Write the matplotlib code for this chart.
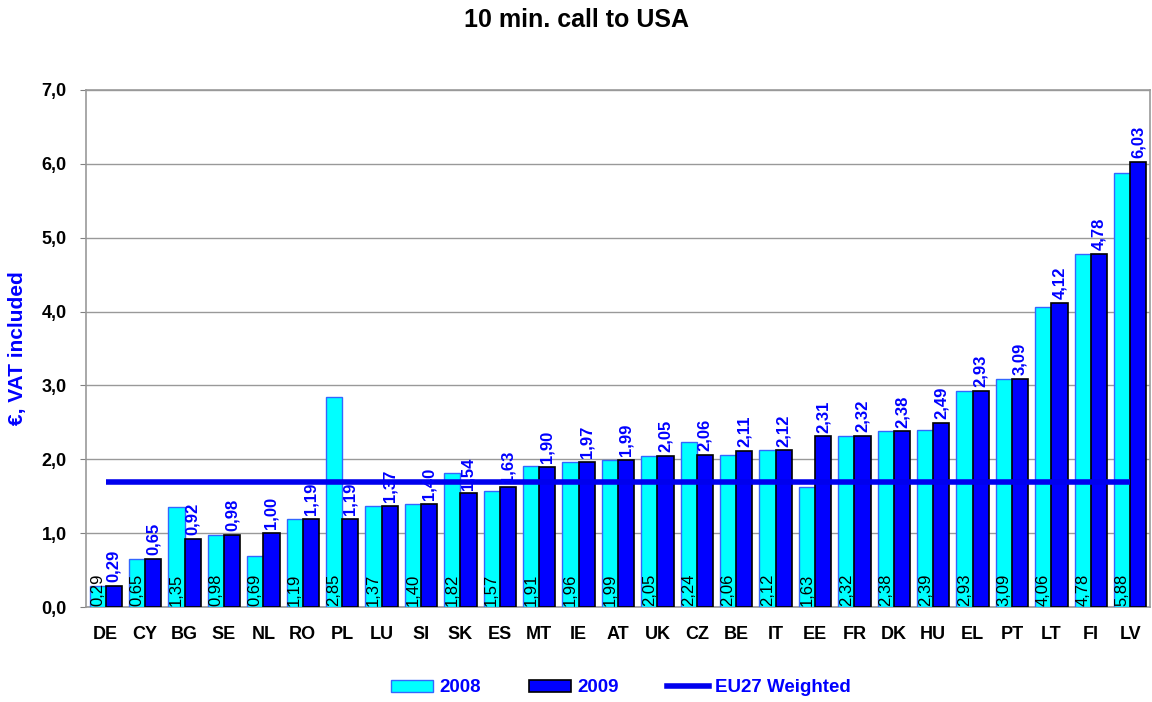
import matplotlib
matplotlib.use("Agg")
import matplotlib.pyplot as plt
import numpy as np
from matplotlib.patches import Patch
from matplotlib.lines import Line2D

plt.rcParams['font.family'] = ['Liberation Sans', 'DejaVu Sans']

countries = ["DE", "CY", "BG", "SE", "NL", "RO", "PL", "LU", "SI", "SK", "ES", "MT", "IE", "AT",
             "UK", "CZ", "BE", "IT", "EE", "FR", "DK", "HU", "EL", "PT", "LT", "FI", "LV"]
v2008 = [0.29, 0.65, 1.35, 0.98, 0.69, 1.19, 2.85, 1.37, 1.40, 1.82, 1.57, 1.91, 1.96, 1.99,
         2.05, 2.24, 2.06, 2.12, 1.63, 2.32, 2.38, 2.39, 2.93, 3.09, 4.06, 4.78, 5.88]
v2009 = [0.29, 0.65, 0.92, 0.98, 1.00, 1.19, 1.19, 1.37, 1.40, 1.54, 1.63, 1.90, 1.97, 1.99,
         2.05, 2.06, 2.11, 2.12, 2.31, 2.32, 2.38, 2.49, 2.93, 3.09, 4.12, 4.78, 6.03]
eu27_weighted = 1.69
yticks = [0, 1, 2, 3, 4, 5, 6, 7]

def fmt(v, d=2):
    return f"{v:.{d}f}".replace(".", ",")

fig = plt.figure(figsize=(11.52, 7.02), dpi=100)
ax = fig.add_axes([0.0747, 0.1353, 0.9235, 0.7365])

x = np.arange(len(countries))
w = 0.41
ax.bar(x - w / 2, v2008, w, color="#00FFFF", edgecolor="#3366FF", linewidth=1.0, zorder=3)
ax.bar(x + w / 2, v2009, w, color="#0000FF", edgecolor="#000000", linewidth=1.2, zorder=3)
ax.plot([x[0], x[-1]], [eu27_weighted, eu27_weighted], color="#0000EE", linewidth=4, zorder=4,
        solid_capstyle="butt")

for xi, v in zip(x, v2008):
    ax.text(xi - w / 2, 0.02, fmt(v), rotation=90, ha="center", va="bottom", fontsize=12,
            color="black", zorder=5)
for xi, v in zip(x, v2009):
    ax.text(xi + w / 2, v + 0.05, fmt(v), rotation=90, ha="center", va="bottom", fontsize=12,
            color="#0000FF", fontweight="bold", zorder=5)

ax.set_xlim(-0.5, len(countries) - 0.5)
ax.set_ylim(0, 7)
ax.set_yticks(yticks)
ax.set_yticklabels([fmt(t, 1) for t in yticks], fontsize=13, fontweight="bold")
ax.set_xticks(x)
ax.set_xticklabels(countries, fontsize=13, fontweight="bold")
ax.tick_params(axis="x", length=0, pad=14)
ax.tick_params(axis="y", length=4, color="#808080", pad=10)
ax.grid(axis="y", color="#999999", linewidth=1.0, zorder=0)
for s in ax.spines.values():
    s.set_color("#999999")
    s.set_linewidth(1.2)

ax.set_ylabel("€, VAT included", fontsize=15, fontweight="bold", color="#0000FF")
ax.yaxis.set_label_coords(-0.0555, 0.5)
fig.text(0.5, 0.971, "10 min. call to USA", fontsize=18, fontweight="bold",
         ha="center", va="center")

handles = [Patch(facecolor="#00FFFF", edgecolor="#3366FF", linewidth=1.0),
           Patch(facecolor="#0000FF", edgecolor="#000000", linewidth=1.2),
           Line2D([0], [0], color="#0000EE", linewidth=4)]
leg = fig.legend(handles, ["2008", "2009", "EU27 Weighted"], loc="center",
                 bbox_to_anchor=(0.539, 0.02), ncol=3, frameon=False, fontsize=13.5,
                 handlelength=2.25, handleheight=0.6, columnspacing=2.57, handletextpad=0.32)
for t in leg.get_texts():
    t.set_color("#0000FF")
    t.set_fontweight("bold")

fig.savefig("out.png", dpi=100)
